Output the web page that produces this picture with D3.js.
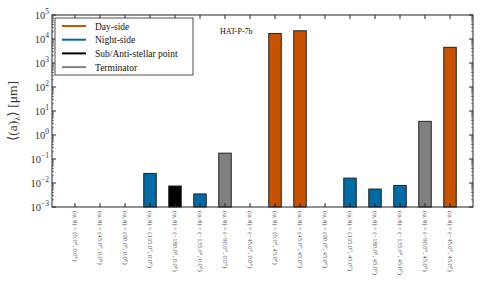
<!DOCTYPE html>
<meta charset="utf-8">
<style>
body { margin: 0; background: #fff; }
text { font-family: "Liberation Serif", "DejaVu Serif", serif; }
</style>
<svg width="483" height="290"></svg>
<script src="https://d3js.org/d3.v7.min.js"></script>
<script>

var phis   = ["0.0", "45.0", "90.0", "135.0", "\u2212180.0", "\u2212135.0", "\u221290.0", "\u221245.0",
              "0.0", "45.0", "90.0", "135.0", "\u2212180.0", "\u2212135.0", "\u221290.0", "\u221245.0"];
var thetas = ["0.0", "0.0", "0.0", "0.0", "0.0", "0.0", "0.0", "0.0",
              "45.0", "45.0", "45.0", "45.0", "45.0", "45.0", "45.0", "45.0"];
// null = no bar
var values = [null, null, null, 0.025, 0.0075, 0.0035, 0.175, null,
              1.7e4, 2.2e4, null, 0.016, 0.0056, 0.0079, 3.7, 4.5e3];
var regions = ["", "", "", "night", "sub", "night", "term", "",
               "day", "day", "", "night", "night", "night", "term", "day"];
var legendNames = ["Day-side", "Night-side", "Sub/Anti-stellar point", "Terminator"];
var legendKeys  = ["day", "night", "sub", "term"];
var yTicks = [-3, -2, -1, 0, 1, 2, 3, 4, 5];

var color = { day: "#c85200", night: "#006ba4", sub: "#000000", term: "#808080" };

var svg = d3.select("svg"),
    pl = 52, pr = 473, pt = 15, pb = 207;

var x = d3.scaleLinear().domain([-0.92, 15.92]).range([pl, pr]);
var y = d3.scaleLog().domain([1e-3, 1e5]).range([pb, pt]);

// bars
svg.append("g").selectAll("rect")
    .data(values.map(function(v, i) { return { v: v, i: i, r: regions[i] }; }).filter(function(d) { return d.v; }))
  .enter().append("rect")
    .attr("x", function(d) { return x(d.i - 0.25); })
    .attr("width", x(0.5) - x(0))
    .attr("y", function(d) { return y(d.v); })
    .attr("height", function(d) { return pb - y(d.v); })
    .attr("fill", function(d) { return color[d.r]; })
    .attr("stroke", "#222")
    .attr("stroke-width", 1);

// frame
svg.append("rect")
    .attr("x", pl).attr("y", pt)
    .attr("width", pr - pl).attr("height", pb - pt)
    .attr("fill", "none").attr("stroke", "#222").attr("stroke-width", 1);

// x ticks (inward, top and bottom)
var idx = d3.range(16);
svg.append("g").selectAll("line").data(idx).enter().append("line")
    .attr("x1", function(d) { return x(d); }).attr("x2", function(d) { return x(d); })
    .attr("y1", pb).attr("y2", pb - 4)
    .attr("stroke", "#222");
svg.append("g").selectAll("line").data(idx).enter().append("line")
    .attr("x1", function(d) { return x(d); }).attr("x2", function(d) { return x(d); })
    .attr("y1", pt).attr("y2", pt + 4)
    .attr("stroke", "#222");

// x labels, rotated
svg.append("g").selectAll("text").data(idx).enter().append("text")
    .attr("transform", function(d) { return "translate(" + (x(d) - 2) + "," + (pb + 4) + ") rotate(90)"; })
    .attr("font-size", 6.5)
    .attr("fill", "#555")
    .text(function(d) { return "(\u03c6, \u03b8) = (" + phis[d] + "\u00b0, " + thetas[d] + "\u00b0)"; });

// y ticks: majors + minors, left and right, inward
var minors = [];
yTicks.slice(0, -1).forEach(function(e) {
  for (var k = 2; k < 10; k++) minors.push(k * Math.pow(10, e));
});
[pl, pr].forEach(function(x0) {
  var dir = x0 === pl ? 1 : -1;
  svg.append("g").selectAll("line").data(yTicks).enter().append("line")
      .attr("x1", x0).attr("x2", x0 + dir * 4)
      .attr("y1", function(d) { return y(Math.pow(10, d)); })
      .attr("y2", function(d) { return y(Math.pow(10, d)); })
      .attr("stroke", "#222");
  svg.append("g").selectAll("line").data(minors).enter().append("line")
      .attr("x1", x0).attr("x2", x0 + dir * 2)
      .attr("y1", function(d) { return y(d); })
      .attr("y2", function(d) { return y(d); })
      .attr("stroke", "#222").attr("stroke-width", 0.6);
});

// y tick labels 10^n
var yl = svg.append("g").selectAll("text").data(yTicks).enter().append("text")
    .attr("x", pl - 3)
    .attr("y", function(d) { return y(Math.pow(10, d)) + 4; })
    .attr("text-anchor", "end")
    .attr("font-size", 10.5)
    .attr("fill", "#333");
yl.append("tspan").text("10");
yl.append("tspan")
    .attr("dy", -5)
    .attr("font-size", 7.5)
    .text(function(d) { return d < 0 ? "\u2212" + (-d) : d; });

// y axis title
var yt = svg.append("text")
    .attr("transform", "translate(17,111) rotate(-90)")
    .attr("text-anchor", "middle")
    .attr("font-size", 13.5)
    .attr("fill", "#333");
yt.append("tspan").text("\u27e8(a)");
yt.append("tspan").attr("font-size", 9).attr("dy", 3).text("\u03bb");
yt.append("tspan").attr("dy", -3).text("\u27e9 [\u03bcm]");

// planet name
svg.append("text")
    .attr("x", 220).attr("y", 34)
    .attr("font-size", 8)
    .attr("fill", "#111")
    .text("HAT-P-7b");

// legend
var lg = svg.append("g");
lg.append("rect")
    .attr("x", 55).attr("y", 18).attr("width", 138).attr("height", 57)
    .attr("fill", "#fff").attr("stroke", "#222").attr("stroke-width", 0.8);
var item = lg.selectAll("g").data(legendKeys).enter().append("g")
    .attr("transform", function(d, i) { return "translate(0," + (26 + i * 13.7) + ")"; });
item.append("line")
    .attr("x1", 62).attr("x2", 86)
    .attr("stroke", function(d) { return color[d]; })
    .attr("stroke-width", 2);
item.append("text")
    .attr("x", 95).attr("y", 3.5)
    .attr("font-size", 9.5)
    .attr("fill", "#111")
    .text(function(d, i) { return legendNames[i]; });

</script>
